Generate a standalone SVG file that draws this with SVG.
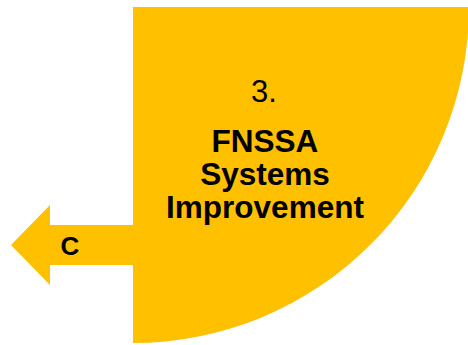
<svg xmlns="http://www.w3.org/2000/svg" width="468" height="345" viewBox="0 0 468 345">
<style>
.fill{fill:#FFC000;stroke:none}
.t{font-family:"Liberation Sans",Arial,sans-serif;fill:#000;text-anchor:middle}
.b{font-weight:bold}
</style>
<rect width="468" height="345" fill="#fff"/>
<g id="quarter">
<path class="fill" d="M133,7 L469,7 A336,336 0 0 1 133,343 Z"/>
<text class="t" x="264" y="102" font-size="31">3.</text>
<text class="t b" x="265" y="152" font-size="31.5">FNSSA</text>
<text class="t b" x="265" y="185" font-size="31.5">Systems</text>
<text class="t b" x="265" y="218" font-size="31.5">Improvement</text>
</g>
<g id="connectors">
<g id="arrowC">
<path class="fill" d="M11,245 L50,205 L50,225 L134,225 L134,265 L50,265 L50,285 Z"/>
<text class="t b" x="70" y="255" font-size="26">C</text>
</g>
</g>
</svg>
